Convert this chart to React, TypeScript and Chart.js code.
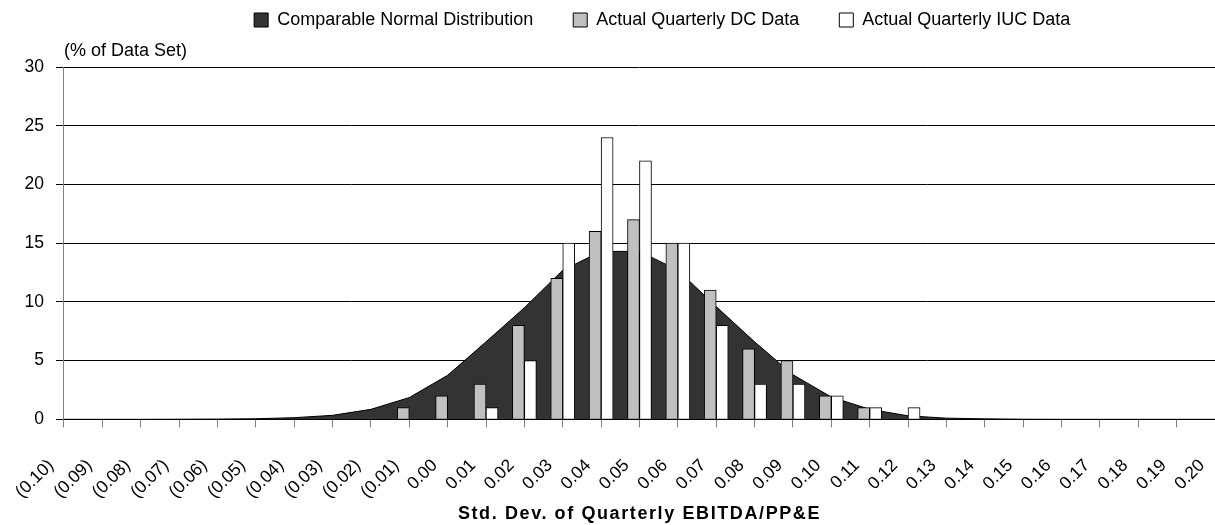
import React, { useEffect, useRef } from 'react';
import { Chart, registerables } from 'chart.js';

Chart.register(...registerables);

const categories = [
  '(0.10)', '(0.09)', '(0.08)', '(0.07)', '(0.06)', '(0.05)', '(0.04)', '(0.03)', '(0.02)', '(0.01)',
  '0.00', '0.01', '0.02', '0.03', '0.04', '0.05', '0.06', '0.07', '0.08', '0.09',
  '0.10', '0.11', '0.12', '0.13', '0.14', '0.15', '0.16', '0.17', '0.18', '0.19', '0.20',
];

const normalValues = [
  0, 0, 0, 0.01, 0.02, 0.05, 0.14, 0.34, 0.85, 1.85,
  3.75, 6.6, 9.5, 12.7, 14.3, 14.3, 12.7, 9.6, 6.6, 3.8,
  1.9, 0.85, 0.3, 0.1, 0.04, 0.01, 0, 0, 0, 0, 0,
];

const dcValues = [
  0, 0, 0, 0, 0, 0, 0, 0, 0, 1,
  2, 3, 8, 12, 16, 17, 15, 11, 6, 5,
  2, 1, 0, 0, 0, 0, 0, 0, 0, 0, 0,
];

const iucValues = [
  0, 0, 0, 0, 0, 0, 0, 0, 0, 0,
  0, 1, 5, 15, 24, 22, 15, 8, 3, 3,
  2, 1, 1, 0, 0, 0, 0, 0, 0, 0, 0,
];

const yTickValues = [0, 5, 10, 15, 20, 25, 30];

const seriesNames = ['Comparable Normal Distribution', 'Actual Quarterly DC Data', 'Actual Quarterly IUC Data'];
const yUnitLabel = '(% of Data Set)';
const xTitle = 'Std. Dev. of Quarterly EBITDA/PP&E';

const FONT = '"Liberation Sans", Arial, sans-serif';

const xTitlePlugin = {
  id: 'xTitleSpaced',
  afterDraw(chart: any) {
    const { ctx, chartArea } = chart;
    ctx.save();
    ctx.font = `bold 18px ${FONT}`;
    (ctx as any).letterSpacing = '1.6px';
    ctx.fillStyle = '#000000';
    ctx.textAlign = 'center';
    ctx.textBaseline = 'middle';
    ctx.fillText(xTitle, (chartArea.left + chartArea.right) / 2, chart.height - 11);
    ctx.restore();
  },
};

export default function App() {
  const canvasRef = useRef<HTMLCanvasElement | null>(null);

  useEffect(() => {
    if (!canvasRef.current) return;
    const chart = new Chart(canvasRef.current, {
      type: 'bar',
      data: {
        labels: categories,
        datasets: [
          {
            type: 'line',
            label: seriesNames[0],
            data: normalValues,
            fill: 'origin',
            backgroundColor: '#333333',
            borderColor: '#000000',
            borderWidth: 1,
            pointRadius: 0,
            tension: 0,
            order: 1,
          } as any,
          {
            type: 'bar',
            label: seriesNames[1],
            data: dcValues,
            backgroundColor: '#C0C0C0',
            borderColor: '#000000',
            borderWidth: 1,
            barThickness: 12,
            order: 0,
          },
          {
            type: 'bar',
            label: seriesNames[2],
            data: iucValues,
            backgroundColor: '#FFFFFF',
            borderColor: '#000000',
            borderWidth: 1,
            barThickness: 12,
            order: 0,
          },
        ],
      },
      options: {
        responsive: false,
        animation: false,
        devicePixelRatio: 1,
        layout: {
          padding: { top: -29, left: 12.5, right: -97, bottom: -5.5 },
        },
        plugins: {
          legend: {
            display: true,
            position: 'top',
            labels: {
              boxWidth: 14,
              boxHeight: 14,
              padding: 40,
              color: '#000000',
              font: { family: FONT, size: 18 },
              sort: (a: any, b: any) => a.datasetIndex - b.datasetIndex,
            },
          },
          title: {
            display: true,
            text: yUnitLabel,
            position: 'top',
            align: 'start',
            fullSize: false,
            weight: 500,
            color: '#000000',
            font: { family: FONT, size: 18, weight: 'normal' },
            padding: { top: 1.2, bottom: 5.2 },
          } as any,
          tooltip: { enabled: false },
        },
        scales: {
          x: {
            type: 'category',
            offset: false,
            grid: {
              offset: false,
              drawOnChartArea: false,
              drawTicks: true,
              tickLength: 8,
              color: '#808080',
            },
            border: { display: true, color: '#000000', width: 1 },
            ticks: {
              autoSkip: false,
              minRotation: 45,
              maxRotation: 45,
              padding: 28,
              labelOffset: -13,
              color: '#000000',
              font: { family: FONT, size: 17.5 },
            },
            afterFit: (scale: any) => {
              scale.paddingLeft = 0;
              scale.paddingRight = 0;
            },
          },
          y: {
            min: yTickValues[0],
            max: yTickValues[yTickValues.length - 1],
            afterBuildTicks: (scale: any) => {
              scale.ticks = yTickValues.map((v) => ({ value: v }));
            },
            grid: {
              color: '#000000',
              lineWidth: 1,
              drawTicks: true,
              tickLength: 8,
            },
            border: { display: true, color: '#808080', width: 1 },
            ticks: {
              padding: 12,
              color: '#000000',
              font: { family: FONT, size: 17.5 },
            },
          },
        },
      },
      plugins: [xTitlePlugin],
    });
    return () => chart.destroy();
  }, []);

  return (
    <div style={{ position: 'fixed', left: 0, top: 0, width: 1215, height: 525, background: '#ffffff' }}>
      <canvas ref={canvasRef} width={1215} height={525} style={{ display: 'block', width: 1215, height: 525 }} />
    </div>
  );
}
